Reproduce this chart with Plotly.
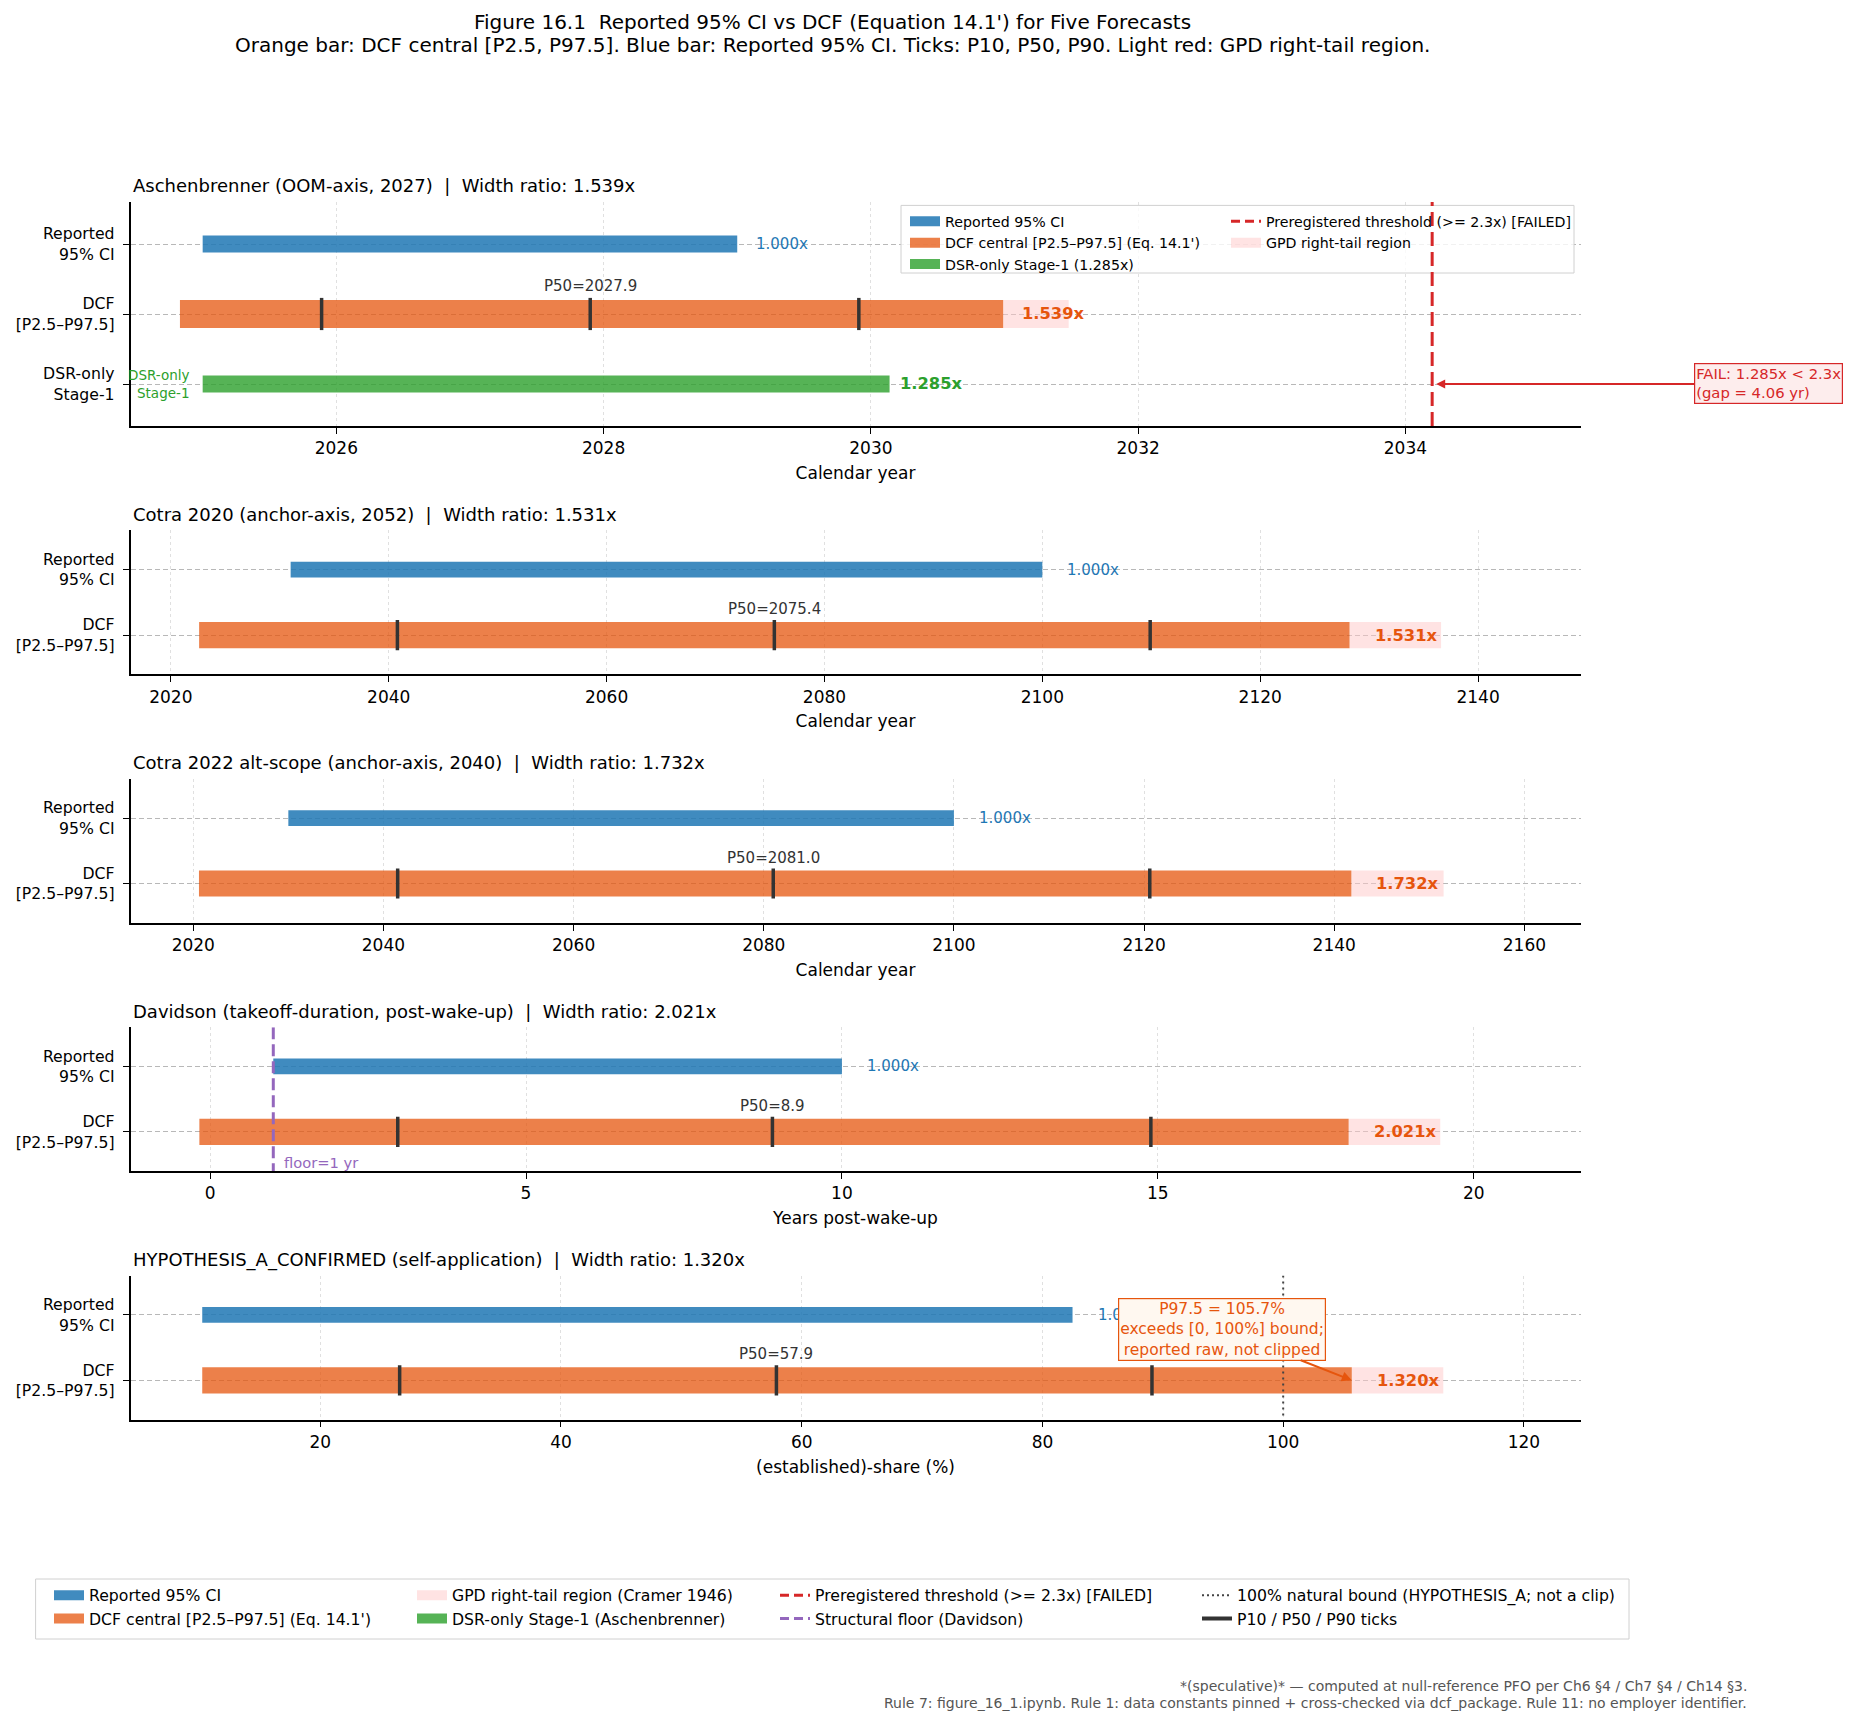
import plotly.graph_objects as go

W, H = 1862, 1726
FONT = "DejaVu Sans"

# ---------------- data ----------------
PANEL_NAMES = [
    "Aschenbrenner (OOM-axis, 2027)",
    "Cotra 2020 (anchor-axis, 2052)",
    "Cotra 2022 alt-scope (anchor-axis, 2040)",
    "Davidson (takeoff-duration, post-wake-up)",
    "HYPOTHESIS_A_CONFIRMED (self-application)",
]
X_TITLES = ["Calendar year", "Calendar year", "Calendar year",
            "Years post-wake-up", "(established)-share (%)"]
ROW_LABELS = ["Reported<br>95% CI", "DCF<br>[P2.5–P97.5]", "DSR-only<br>Stage-1"]

REP_LO = [2025.0, 2031.0, 2030.0, 1.0, 10.2]
REP_HI = [2029.0, 2100.0, 2100.0, 10.0, 82.5]
DCF_P2_5 = [2024.83, 2022.6, 2020.6, -0.17, 10.2]
DCF_P10 = [2025.89, 2040.8, 2041.5, 2.97, 26.6]
DCF_P50 = [2027.9, 2075.4, 2081.0, 8.9, 57.9]
DCF_P90 = [2029.91, 2109.9, 2120.6, 14.89, 89.1]
DCF_P97_5 = [2030.99, 2128.2, 2141.8, 18.02, 105.7]
GPD_TAIL_END = [2031.48, 2136.6, 2151.5, 19.47, 113.3]
WIDTH_RATIO = [1.539, 1.531, 1.732, 2.021, 1.320]

DSR_LO, DSR_HI = 2025.0, 2030.14
DSR_RATIO = 1.285
THRESHOLD_RATIO = 2.3
THRESHOLD = 2034.2
FLOOR = 1.0
BOUND = 100.0

X_RANGES = [[2024.46, 2035.31], [2016.3, 2149.4], [2013.4, 2165.9],
            [-1.26, 21.69], [4.24, 124.7]]
X_TICK0 = [2026, 2020, 2020, 0, 0]
X_DTICK = [2, 20, 20, 5, 20]

# ---------------- style ----------------
C_BLUE = "rgba(31,119,180,0.85)"
C_ORANGE = "rgba(230,85,13,0.75)"
C_GREEN = "rgba(44,160,44,0.80)"
C_TAIL = "rgba(255,200,200,0.5)"
C_RED = "#d62728"
C_PURPLE = "#9467bd"
C_DARK = "#333333"

AX_L, AX_R = 130.5, 1580.5
BOTTOMS = [426.0, 674.4, 922.8, 1171.2, 1419.6]
HEIGHTS = [224.0, 144.0, 144.0, 144.0, 144.0]
REP_H, DCF_H, TICK_H = 0.24, 0.40, 0.46


def nb(s):
    return s.replace("  ", " \u00a0")


fig = go.Figure()
layout = dict(
    width=W, height=H, margin=dict(l=0, r=0, t=0, b=0),
    paper_bgcolor="white", plot_bgcolor="white", barmode="overlay",
    font=dict(family=FONT, color="black"), showlegend=True,
)
annotations = []
shapes = []

for i in range(5):
    sfx = "" if i == 0 else str(i + 1)
    xa, ya = "x" + sfx, "y" + sfx
    nrows = 3 if i == 0 else 2
    top = BOTTOMS[i] - HEIGHTS[i]
    layout["xaxis" + sfx] = dict(
        domain=[AX_L / W, AX_R / W], anchor=ya, range=X_RANGES[i],
        tick0=X_TICK0[i], dtick=X_DTICK[i], showline=True, linecolor="black",
        linewidth=1.6, ticks="outside", ticklen=6, tickwidth=1.3, tickcolor="black",
        tickfont=dict(size=17), showgrid=True, gridcolor="#e0e0e0", griddash="dot",
        gridwidth=1, zeroline=False, fixedrange=True,
        title=dict(text=X_TITLES[i], font=dict(size=17), standoff=10),
    )
    layout["yaxis" + sfx] = dict(
        domain=[1 - BOTTOMS[i] / H, 1 - top / H], anchor=xa,
        range=[nrows - 1 + 0.6, -0.6], tickvals=list(range(nrows)),
        ticktext=ROW_LABELS[:nrows], showline=True, linecolor="black", linewidth=1.6,
        ticks="outside", ticklen=6, tickwidth=1.3, tickcolor="black",
        tickfont=dict(size=15.7), showgrid=True, gridcolor="#b8b8b8", griddash="5px,3px",
        gridwidth=1, zeroline=False, fixedrange=True, ticklabelstandoff=5,
    )

    w_dcf = DCF_P97_5[i] - DCF_P2_5[i]
    # GPD tail
    fig.add_trace(go.Bar(x=[GPD_TAIL_END[i] - DCF_P97_5[i]], base=[DCF_P97_5[i]], y=[1],
                         orientation="h", width=DCF_H, marker=dict(color=C_TAIL, line=dict(width=0)),
                         xaxis=xa, yaxis=ya, showlegend=False, hoverinfo="skip"))
    # reported
    fig.add_trace(go.Bar(x=[REP_HI[i] - REP_LO[i]], base=[REP_LO[i]], y=[0],
                         orientation="h", width=REP_H, marker=dict(color=C_BLUE, line=dict(width=0)),
                         xaxis=xa, yaxis=ya, showlegend=False))
    # DCF
    fig.add_trace(go.Bar(x=[w_dcf], base=[DCF_P2_5[i]], y=[1],
                         orientation="h", width=DCF_H, marker=dict(color=C_ORANGE, line=dict(width=0)),
                         xaxis=xa, yaxis=ya, showlegend=False))
    if i == 0:
        fig.add_trace(go.Bar(x=[DSR_HI - DSR_LO], base=[DSR_LO], y=[2],
                             orientation="h", width=REP_H, marker=dict(color=C_GREEN, line=dict(width=0)),
                             xaxis=xa, yaxis=ya, showlegend=False))
    # P10/P50/P90 ticks
    tx, ty = [], []
    for p in (DCF_P10[i], DCF_P50[i], DCF_P90[i]):
        tx += [p, p, None]
        ty += [1 - TICK_H / 2, 1 + TICK_H / 2, None]
    fig.add_trace(go.Scatter(x=tx, y=ty, mode="lines", line=dict(color=C_DARK, width=3.5),
                             xaxis=xa, yaxis=ya, showlegend=False, hoverinfo="skip"))
    if i == 3:
        fig.add_trace(go.Scatter(x=[FLOOR, FLOOR], y=[-0.6, 1.6], mode="lines",
                                 line=dict(color=C_PURPLE, width=3, dash="12px,5px"),
                                 xaxis=xa, yaxis=ya, showlegend=False))
        annotations.append(dict(x=FLOOR + 0.13, y=1.47, xref=xa, yref=ya, text=f"floor={FLOOR:g} yr",
                                showarrow=False, xanchor="left", yanchor="middle",
                                font=dict(size=14.7, color=C_PURPLE)))
    if i == 4:
        fig.add_trace(go.Scatter(x=[BOUND, BOUND], y=[-0.6, 1.6], mode="lines",
                                 line=dict(color="#444444", width=2, dash="2px,4px"),
                                 xaxis=xa, yaxis=ya, showlegend=False))

    # subplot title
    annotations.append(dict(x=AX_L / W, y=1 - (top - 16) / H, xref="paper", yref="paper",
                            text=nb(f"{PANEL_NAMES[i]}  |  Width ratio: {WIDTH_RATIO[i]:.3f}x"),
                            showarrow=False, xanchor="left", yanchor="middle",
                            font=dict(size=18)))
    # labels
    annotations.append(dict(x=REP_HI[i] + 0.02 * w_dcf, y=0, xref=xa, yref=ya,
                            text=f"{1.0:.3f}x", showarrow=False, xanchor="left", yanchor="middle",
                            font=dict(size=15, color="#1f77b4")))
    annotations.append(dict(x=DCF_P97_5[i] + 0.02 * w_dcf, y=1, xref=xa, yref=ya,
                            text=f"<b>{WIDTH_RATIO[i]:.3f}x</b>", showarrow=False, xanchor="left",
                            yanchor="middle", font=dict(size=16.3, color="#e6550d")))
    annotations.append(dict(x=DCF_P50[i], y=1 - 0.395, xref=xa, yref=ya,
                            text=f"P50={DCF_P50[i]:.1f}", showarrow=False, xanchor="center",
                            yanchor="middle", font=dict(size=15, color=C_DARK)))

# panel-1 extras
w_dsr = DSR_HI - DSR_LO
annotations.append(dict(x=DSR_HI + 0.012 * w_dsr, y=2, xref="x", yref="y",
                        text=f"<b>{DSR_RATIO:.3f}x</b>", showarrow=False, xanchor="left",
                        yanchor="middle", font=dict(size=16.3, color="#2ca02c")))
annotations.append(dict(x=DSR_LO - 0.09, y=2, xref="x", yref="y", text="DSR-only<br>Stage-1",
                        showarrow=False, xanchor="right", yanchor="middle", align="right",
                        font=dict(size=13.5, color="#2ca02c")))
annotations.append(dict(x=THRESHOLD, y=2, xref="x", yref="y",
                        text=f"FAIL: {DSR_RATIO:.3f}x < {THRESHOLD_RATIO:g}x<br>(gap = {THRESHOLD - DSR_HI:.2f} yr)",
                        showarrow=True, ax=336.5, ay=0, axref="pixel", ayref="pixel",
                        arrowcolor=C_RED, arrowwidth=1.8, arrowhead=2, arrowsize=1, standoff=4,
                        align="left", bgcolor="#fdeded", bordercolor=C_RED, borderwidth=1.2,
                        borderpad=1, font=dict(size=14.8, color=C_RED)))
# panel-5 note
annotations.append(dict(x=DCF_P97_5[4], y=1, xref="x5", yref="y5",
                        text=f"P97.5 = {DCF_P97_5[4]:.1f}%<br>exceeds [0, 100%] bound;<br>reported raw, not clipped",
                        showarrow=True, ax=-129.5, ay=-51, axref="pixel", ayref="pixel",
                        arrowcolor="#e6550d", arrowwidth=2, arrowhead=2, arrowsize=1,
                        align="center", bgcolor="#fff8f0", bordercolor="#e6550d", borderwidth=1.2,
                        borderpad=1, font=dict(size=15.5, color="#e6550d")))

# suptitle
annotations.append(dict(x=832 / W, y=1 - 22.5 / H, xref="paper", yref="paper",
                        text=nb("Figure 16.1  Reported 95% CI vs DCF (Equation 14.1') for Five Forecasts"),
                        showarrow=False, xanchor="center", yanchor="middle", font=dict(size=20)))
annotations.append(dict(x=832 / W, y=1 - 45 / H, xref="paper", yref="paper",
                        text="Orange bar: DCF central [P2.5, P97.5]. Blue bar: Reported 95% CI. Ticks: P10, P50, P90. Light red: GPD right-tail region.",
                        showarrow=False, xanchor="center", yanchor="middle", font=dict(size=20)))
# footnote
annotations.append(dict(x=1749 / W, y=1 - 1686 / H, xref="paper", yref="paper",
                        text="*(speculative)* — computed at null-reference PFO per Ch6 §4 / Ch7 §4 / Ch14 §3.",
                        showarrow=False, xanchor="right", yanchor="middle", font=dict(size=14, color="#555555")))
annotations.append(dict(x=1749 / W, y=1 - 1703 / H, xref="paper", yref="paper",
                        text="Rule 7: figure_16_1.ipynb. Rule 1: data constants pinned + cross-checked via dcf_package. Rule 11: no employer identifier.",
                        showarrow=False, xanchor="right", yanchor="middle", font=dict(size=14, color="#555555")))

# ---------------- legends ----------------
def dummy(name, legend, color, width=12, dash=None):
    fig.add_trace(go.Scatter(x=[None], y=[None], mode="lines", name=name, legend=legend,
                             line=dict(color=color, width=width, dash=dash), showlegend=True,
                             xaxis="x", yaxis="y", hoverinfo="skip"))

dummy("Reported 95% CI", "legend", C_BLUE)
dummy("DCF central [P2.5–P97.5] (Eq. 14.1')", "legend", C_ORANGE)
dummy(f"DSR-only Stage-1 ({DSR_RATIO:.3f}x)", "legend", C_GREEN)
dummy(f"Preregistered threshold (>= {THRESHOLD_RATIO:g}x) [FAILED]", "legend2", C_RED, 3, "9px,5px")
dummy("GPD right-tail region", "legend2", C_TAIL)

dummy("Reported 95% CI", "legend3", C_BLUE)
dummy("DCF central [P2.5–P97.5] (Eq. 14.1')", "legend3", C_ORANGE)
dummy("GPD right-tail region (Cramer 1946)", "legend4", C_TAIL)
dummy("DSR-only Stage-1 (Aschenbrenner)", "legend4", C_GREEN)
dummy(f"Preregistered threshold (>= {THRESHOLD_RATIO:g}x) [FAILED]", "legend5", C_RED, 3, "9px,5px")
dummy("Structural floor (Davidson)", "legend5", C_PURPLE, 3, "9px,5px")
dummy("100% natural bound (HYPOTHESIS_A; not a clip)", "legend6", "#444444", 2, "2px,3px")
dummy("P10 / P50 / P90 ticks", "legend6", C_DARK, 4)

def leg(text_x, row1_y, size):
    return dict(x=(text_x - 40) / W, y=1 - (row1_y - size * 0.8) / H, xanchor="left", yanchor="top",
                orientation="v", bgcolor="rgba(0,0,0,0)", borderwidth=0,
                font=dict(size=size, family=FONT), tracegroupgap=0)

layout["legend"] = leg(945, 216, 13.2)
layout["legend2"] = leg(1266, 216, 13.2)
layout["legend3"] = leg(89, 1591, 15.7)
layout["legend4"] = leg(452, 1591, 15.7)
layout["legend5"] = leg(815, 1591, 15.7)
layout["legend6"] = leg(1237, 1591, 15.7)
for k in ("legend", "legend2"):
    layout[k]["font"]["size"] = 14.2

shapes.append(dict(type="rect", xref="paper", yref="paper", x0=901 / W, x1=1574 / W,
                   y0=1 - 273 / H, y1=1 - 205.4 / H, fillcolor="rgba(255,255,255,0.8)",
                   line=dict(color="#d0d0d0", width=1), layer="above"))
shapes.append(dict(type="rect", xref="paper", yref="paper", x0=35.6 / W, x1=1629 / W,
                   y0=1 - 1639 / H, y1=1 - 1579 / H, fillcolor="white",
                   line=dict(color="#d0d0d0", width=1), layer="above"))
shapes.append(dict(type="line", xref="x", yref="y domain", x0=THRESHOLD, x1=THRESHOLD, y0=0, y1=1,
                   line=dict(color=C_RED, width=3, dash="14px,6px"), layer="above"))

layout["annotations"] = annotations
layout["shapes"] = shapes
fig.update_layout(**layout)
fig.write_html("out.html")
